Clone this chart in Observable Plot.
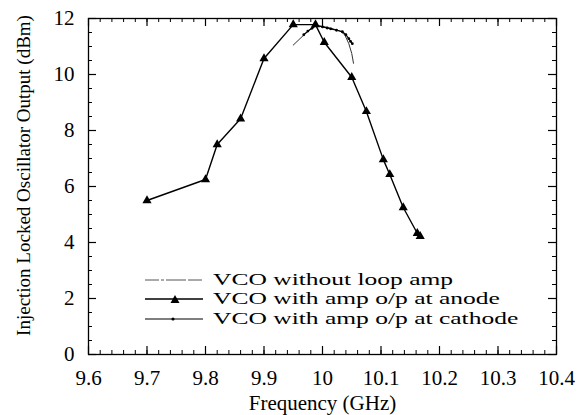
<!DOCTYPE html>
<html>
<head>
<meta charset="utf-8">
<script src="https://cdn.jsdelivr.net/npm/d3@7"></script>
<script src="https://cdn.jsdelivr.net/npm/@observablehq/plot@0.6"></script>
<style>
  body { margin: 0; background: #fff; }
  #wrap { position: relative; width: 582px; height: 415px; }
  #chart svg, #chart svg text { font-family: "Liberation Serif", serif !important; }
  #legend { position: absolute; left: 145px; top: 270px; font-family: "Liberation Serif", serif; font-size: 17px; color: #000; }
  .row { height: 19.5px; display: flex; align-items: center; white-space: nowrap; }
  .row svg { flex: none; }
  .row span { display: inline-block; margin-left: 10px; transform: scaleX(1.5); transform-origin: left center; }
</style>
</head>
<body>
<div id="wrap"><div id="chart"></div><div id="legend"></div></div>
<script>
// ---- data ----
const anodeX = [9.70, 9.80, 9.82, 9.86, 9.90, 9.95, 9.988, 10.003, 10.05, 10.075, 10.104, 10.115, 10.138, 10.162, 10.167];
const anodeY = [5.5, 6.25, 7.5, 8.42, 10.57, 11.78, 11.78, 11.15, 9.9, 8.68, 6.96, 6.43, 5.25, 4.33, 4.22];

const withoutX = [9.95, 9.96, 9.97, 9.98, 9.988, 10.0, 10.015, 10.03, 10.038, 10.045, 10.05, 10.053];
const withoutY = [11.05, 11.25, 11.45, 11.62, 11.75, 11.72, 11.65, 11.55, 11.42, 11.1, 10.75, 10.4];

const cathodeX = [9.968, 9.975, 9.982, 9.99, 10.0, 10.008, 10.014, 10.024, 10.034, 10.04, 10.045, 10.048, 10.051];
const cathodeY = [11.42, 11.55, 11.65, 11.75, 11.7, 11.66, 11.63, 11.58, 11.53, 11.42, 11.28, 11.18, 11.1];

const seriesNames = ["VCO without loop amp", "VCO with amp o/p at anode", "VCO with amp o/p at cathode"];

const xTicks = [9.6, 9.7, 9.8, 9.9, 10.0, 10.1, 10.2, 10.3, 10.4];
const xTickLabels = ["9.6", "9.7", "9.8", "9.9", "10", "10.1", "10.2", "10.3", "10.4"];
const yTicks = [0, 2, 4, 6, 8, 10, 12];
const yTickLabels = ["0", "2", "4", "6", "8", "10", "12"];
const xMinorStep = 0.02;
const yMinorStep = 0.5;

const xLabel = "Frequency (GHz)";
const yLabel = "Injection Locked Oscillator Output (dBm)";

// ---- build ----
const anode = anodeX.map((x, i) => ({x, y: anodeY[i]}));
const without = withoutX.map((x, i) => ({x, y: withoutY[i]}));
const cathode = cathodeX.map((x, i) => ({x, y: cathodeY[i]}));
const xMinor = d3.range(0, 41).map(i => +(9.6 + i * xMinorStep).toFixed(3));
const yMinor = d3.range(0, 25).map(i => i * yMinorStep);

const W = 582, H = 415, mL = 88, mR = 26, mT = 18, mB = 61;
const fW = W - mL - mR, fH = H - mT - mB;
const major = 8, minor = 4;
const FONT = "Liberation Serif";

const chart = Plot.plot({
  width: W, height: H,
  marginLeft: mL, marginRight: mR, marginTop: mT, marginBottom: mB,
  style: {fontFamily: FONT, background: "#fff", color: "#000"},
  x: {domain: [9.6, 10.4]},
  y: {domain: [0, 12]},
  marks: [
    // inward ticks, bottom & top
    Plot.tickX(xMinor, {x: d => d, insetTop: fH - minor, stroke: "#000", strokeWidth: 1}),
    Plot.tickX(xMinor, {x: d => d, insetBottom: fH - minor, stroke: "#000", strokeWidth: 1}),
    Plot.tickX(xTicks, {x: d => d, insetTop: fH - major, stroke: "#000", strokeWidth: 1.2}),
    Plot.tickX(xTicks, {x: d => d, insetBottom: fH - major, stroke: "#000", strokeWidth: 1.2}),
    // inward ticks, left & right
    Plot.tickY(yMinor, {y: d => d, insetRight: fW - minor, stroke: "#000", strokeWidth: 1}),
    Plot.tickY(yMinor, {y: d => d, insetLeft: fW - minor, stroke: "#000", strokeWidth: 1}),
    Plot.tickY(yTicks, {y: d => d, insetRight: fW - major, stroke: "#000", strokeWidth: 1.2}),
    Plot.tickY(yTicks, {y: d => d, insetLeft: fW - major, stroke: "#000", strokeWidth: 1.2}),
    Plot.frame({stroke: "#000", strokeWidth: 1.3}),
    Plot.axisX({ticks: xTicks, tickSize: 0, tickPadding: 16, tickFormat: (d, i) => xTickLabels[i], fontSize: 21, fontFamily: FONT, label: null}),
    Plot.axisY({ticks: yTicks, tickSize: 0, tickPadding: 14, tickFormat: (d, i) => yTickLabels[i], fontSize: 21, fontFamily: FONT, label: null}),
    Plot.text([xLabel], {frameAnchor: "bottom", dy: 49, lineAnchor: "middle", textAnchor: "middle", fontSize: 21, fontFamily: FONT}),
    Plot.text([yLabel], {frameAnchor: "left", rotate: -90, dx: -65, dy: -11, lineAnchor: "middle", textAnchor: "middle", fontSize: 19, fontFamily: FONT}),
    // series
    Plot.line(without, {x: "x", y: "y", stroke: "#333", strokeWidth: 1}),
    Plot.line(cathode, {x: "x", y: "y", stroke: "#000", strokeWidth: 1.2}),
    Plot.dot(cathode, {x: "x", y: "y", r: 1.4, fill: "#000", stroke: "none"}),
    Plot.line(anode, {x: "x", y: "y", stroke: "#000", strokeWidth: 1.4}),
    Plot.dot(anode, {x: "x", y: "y", symbol: "triangle", r: 3.4, fill: "#000", stroke: "none"})
  ]
});
document.getElementById("chart").appendChild(chart);

// legend
const legend = document.getElementById("legend");
const samples = [
  `<svg width="58" height="10"><line x1="0" x2="58" y1="5" y2="5" stroke="#555" stroke-width="1" stroke-dasharray="14 2 3 2 20 2 14"/></svg>`,
  `<svg width="58" height="10"><line x1="0" x2="58" y1="5" y2="5" stroke="#000" stroke-width="1.6"/><path d="M30,1 L34.5,9 L25.5,9 Z" fill="#000"/></svg>`,
  `<svg width="58" height="10"><line x1="0" x2="58" y1="5" y2="5" stroke="#000" stroke-width="1.2"/><circle cx="28" cy="5" r="1.6" fill="#000"/></svg>`
];
seriesNames.forEach((name, i) => {
  const row = document.createElement("div");
  row.className = "row";
  row.innerHTML = samples[i];
  const s = document.createElement("span");
  s.textContent = name;
  row.appendChild(s);
  legend.appendChild(row);
});
</script>
</body>
</html>
